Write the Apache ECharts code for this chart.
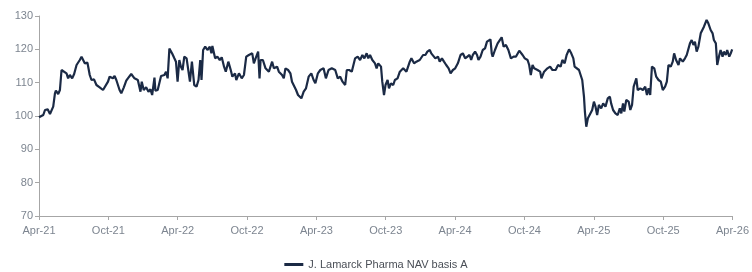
<!DOCTYPE html>
<html>
<head>
<meta charset="utf-8">
<script src="https://cdn.jsdelivr.net/npm/echarts@6/dist/echarts.min.js"></script>
<style>
html, body { margin: 0; padding: 0; background: #fff; }
#chart0 { width: 752px; height: 272px; }
</style>
</head>
<body>
<div id="chart0"></div>
<script>
'use strict';

// months since Apr-21
var months = [
	0.00, 0.09, 0.37, 0.52, 0.75, 0.95, 1.09, 1.23, 1.38, 1.46, 1.66, 1.81, 1.95, 2.09, 2.38, 2.52, 2.67, 2.87, 3.04, 3.25,
	3.53, 3.68, 3.81, 3.96, 4.19, 4.39, 4.54, 4.76, 4.97, 5.25, 5.54, 5.68, 5.97, 6.11, 6.40, 6.54, 6.69, 6.97, 7.12, 7.34,
	7.55, 7.69, 7.98, 8.26, 8.55, 8.78, 8.89, 9.06, 9.27, 9.47, 9.64, 9.79, 9.99, 10.07, 10.27, 10.56, 10.85, 10.99, 11.13, 11.28,
	11.51, 11.71, 11.85, 11.99, 12.14, 12.28, 12.42, 12.57, 12.77, 12.94, 13.06, 13.23, 13.43, 13.63, 13.80, 13.95, 14.06, 14.20, 14.38, 14.57,
	14.78, 14.92, 15.00, 15.24, 15.43, 15.64, 15.81, 16.01, 16.16, 16.38, 16.59, 16.73, 16.96, 17.07, 17.30, 17.54, 17.73, 17.93, 18.16, 18.31,
	18.45, 18.59, 18.74, 18.96, 19.08, 19.17, 19.37, 19.60, 19.89, 20.17, 20.32, 20.60, 20.75, 21.03, 21.18, 21.32, 21.55, 21.75, 21.89, 22.04,
	22.24, 22.41, 22.55, 22.70, 22.90, 23.10, 23.33, 23.56, 23.76, 23.91, 24.13, 24.34, 24.62, 24.82, 25.05, 25.33, 25.63, 25.85, 26.06, 26.26,
	26.49, 26.63, 26.83, 27.06, 27.35, 27.57, 27.78, 27.98, 28.15, 28.35, 28.49, 28.64, 28.84, 29.07, 29.21, 29.35, 29.59, 29.70, 29.85, 29.98,
	30.16, 30.28, 30.45, 30.65, 30.79, 31.02, 31.22, 31.36, 31.51, 31.65, 31.79, 32.08, 32.22, 32.45, 32.65, 32.94, 33.08, 33.23, 33.43, 33.60,
	33.81, 33.94, 34.09, 34.29, 34.52, 34.67, 34.86, 35.04, 35.23, 35.44, 35.61, 35.81, 36.01, 36.24, 36.47, 36.67, 36.87, 37.04, 37.25, 37.39,
	37.53, 37.73, 37.90, 38.02, 38.20, 38.39, 38.59, 38.76, 38.88, 39.06, 39.17, 39.25, 39.45, 39.68, 39.83, 40.03, 40.20, 40.40, 40.61, 40.83,
	41.06, 41.26, 41.55, 41.84, 42.03, 42.27, 42.41, 42.55, 42.70, 42.84, 43.13, 43.36, 43.47, 43.70, 43.99, 44.22, 44.42, 44.70, 44.91, 45.13,
	45.28, 45.48, 45.65, 45.86, 46.05, 46.23, 46.34, 46.51, 46.72, 46.86, 47.00, 47.15, 47.23, 47.35, 47.49, 47.66, 47.86, 48.01, 48.15, 48.29,
	48.44, 48.64, 48.81, 49.01, 49.21, 49.39, 49.50, 49.67, 49.87, 50.07, 50.25, 50.38, 50.53, 50.64, 50.81, 51.02, 51.16, 51.31, 51.45, 51.68,
	51.80, 52.02, 52.25, 52.45, 52.60, 52.74, 52.88, 53.03, 53.23, 53.40, 53.60, 53.80, 53.97, 54.17, 54.32, 54.46, 54.66, 54.83, 54.95, 55.12,
	55.33, 55.46, 55.70, 55.89, 56.04, 56.32, 56.47, 56.62, 56.75, 56.90, 57.05, 57.25, 57.42, 57.53, 57.76, 57.91, 58.11, 58.28, 58.39, 58.56,
	58.68, 58.86, 58.97, 59.14, 59.25, 59.42, 59.54, 59.72, 59.85, 59.97
];

var nav = [
	99.6, 100.0, 100.3, 101.8, 102.0, 100.6, 100.0, 102.8, 106.8, 107.6, 106.6, 107.8, 113.8, 114.0, 112.8, 111.3, 112.3, 111.3, 112.6, 115.3,
	116.8, 117.8, 117.3, 115.8, 116.0, 112.3, 110.8, 111.0, 109.3, 108.6, 107.8, 108.2, 110.3, 111.8, 111.3, 112.0, 110.8, 107.8, 106.8, 108.6,
	110.6, 111.3, 112.6, 111.3, 110.8, 107.3, 110.3, 107.8, 108.6, 107.3, 108.0, 106.3, 111.5, 107.6, 107.8, 112.0, 112.3, 113.3, 111.3, 120.2,
	118.8, 117.3, 116.3, 110.3, 116.8, 114.8, 113.8, 117.8, 117.3, 117.8, 110.3, 116.3, 109.3, 108.8, 110.8, 116.8, 110.8, 119.8, 120.8, 119.8,
	120.8, 118.8, 121.0, 117.3, 117.8, 116.8, 117.6, 114.8, 113.3, 116.3, 113.8, 111.8, 112.8, 110.8, 112.8, 111.3, 112.3, 117.8, 118.3, 117.8,
	118.8, 115.8, 117.3, 119.3, 111.3, 116.8, 116.8, 114.3, 113.3, 116.3, 114.3, 114.8, 113.3, 112.3, 111.3, 114.3, 113.8, 112.8, 110.3, 109.8,
	107.8, 106.3, 106.8, 105.3, 107.3, 108.3, 111.8, 112.8, 110.8, 109.8, 112.8, 113.8, 114.3, 111.3, 113.8, 114.3, 113.8, 111.3, 111.8, 110.3,
	109.3, 113.8, 113.8, 113.3, 117.3, 117.8, 116.8, 118.3, 117.3, 118.8, 117.3, 118.3, 116.8, 115.8, 114.3, 115.8, 114.8, 110.3, 106.3, 109.3,
	110.8, 108.3, 109.8, 109.3, 110.8, 111.3, 113.3, 112.8, 114.3, 113.8, 113.3, 116.3, 117.3, 115.8, 116.3, 116.8, 116.3, 118.3, 118.3, 119.3,
	119.8, 118.8, 118.3, 117.3, 117.8, 116.3, 117.3, 116.3, 115.3, 114.3, 112.8, 113.8, 114.3, 115.8, 118.3, 118.8, 117.3, 117.8, 118.3, 116.8,
	118.3, 119.3, 118.3, 116.8, 117.8, 119.8, 120.3, 122.3, 122.8, 123.0, 118.8, 117.8, 119.8, 121.8, 122.3, 123.6, 120.8, 121.3, 119.8, 117.3,
	117.8, 117.8, 119.6, 118.3, 117.3, 116.8, 115.3, 112.3, 115.3, 114.3, 113.8, 113.3, 111.3, 113.3, 114.3, 114.8, 113.8, 113.8, 115.3, 114.8,
	116.8, 115.8, 118.3, 120.0, 118.8, 117.3, 114.8, 115.3, 113.8, 112.3, 110.8, 105.8, 101.3, 96.8, 99.3, 98.8, 101.8, 104.3, 102.8, 100.3,
	103.3, 102.3, 103.8, 102.8, 105.3, 105.8, 103.8, 101.8, 100.8, 100.3, 102.3, 100.8, 103.8, 101.3, 104.8, 104.3, 101.8, 103.3, 108.8, 111.3,
	107.8, 108.3, 107.8, 108.8, 106.3, 108.3, 106.3, 114.8, 114.3, 111.8, 110.8, 110.3, 107.8, 108.8, 110.3, 115.3, 114.8, 116.3, 118.8, 116.8,
	115.3, 117.3, 116.3, 117.3, 118.3, 121.8, 122.8, 121.3, 122.3, 119.3, 120.8, 124.8, 125.3, 126.8, 128.8, 127.8, 125.8, 124.8, 122.8, 121.8,
	115.3, 118.3, 119.8, 117.8, 119.3, 118.3, 119.8, 117.8, 118.8, 120.0
];

var tick_labels = [ 'Apr-21', 'Oct-21', 'Apr-22', 'Oct-22', 'Apr-23', 'Oct-23',
	'Apr-24', 'Oct-24', 'Apr-25', 'Oct-25', 'Apr-26' ];

var series_name = 'J. Lamarck Pharma NAV basis A';

var line_data = [];
for (var i = 0; i < months.length; i++) {
	line_data.push([ months[i], nav[i] ]);
}

var chart0 = echarts.init(document.getElementById('chart0'));
var font = 'Liberation Sans, Arial, sans-serif';
var axis_grey = '#a6a6a6';
var label_grey = '#7d8590';

chart0.setOption({
	animation : false,
	textStyle : {
		fontFamily : font
	},
	grid : {
		left : 39,
		right : 16,
		top : 16,
		bottom : 56
	},
	legend : {
		top : 259,
		left : 'center',
		padding : 0,
		icon : 'rect',
		itemWidth : 19,
		itemHeight : 3,
		itemGap : 6,
		textStyle : {
			color : '#4a4f57',
			fontSize : 11,
			fontFamily : font
		},
		data : [ series_name ]
	},
	xAxis : {
		type : 'value',
		min : 0,
		max : 60,
		interval : 6,
		splitLine : {
			show : false
		},
		axisLine : {
			lineStyle : {
				color : axis_grey
			}
		},
		axisTick : {
			length : 4,
			lineStyle : {
				color : axis_grey
			}
		},
		axisLabel : {
			color : label_grey,
			fontSize : 11,
			margin : 9,
			fontFamily : font,
			formatter : function(v) {
				return tick_labels[Math.round(v / 6)];
			}
		}
	},
	yAxis : {
		type : 'value',
		min : 70,
		max : 130,
		interval : 10,
		splitLine : {
			show : false
		},
		axisLine : {
			show : true,
			lineStyle : {
				color : axis_grey
			}
		},
		axisTick : {
			show : true,
			length : 4,
			lineStyle : {
				color : axis_grey
			}
		},
		axisLabel : {
			color : label_grey,
			fontSize : 11,
			margin : 6,
			fontFamily : font
		}
	},
	series : [ {
		name : series_name,
		type : 'line',
		symbol : 'none',
		smooth : false,
		lineStyle : {
			color : '#1b2a45',
			width : 2.2
		},
		itemStyle : {
			color : '#1b2a45'
		},
		data : line_data
	} ]
});
</script>
</body>
</html>
